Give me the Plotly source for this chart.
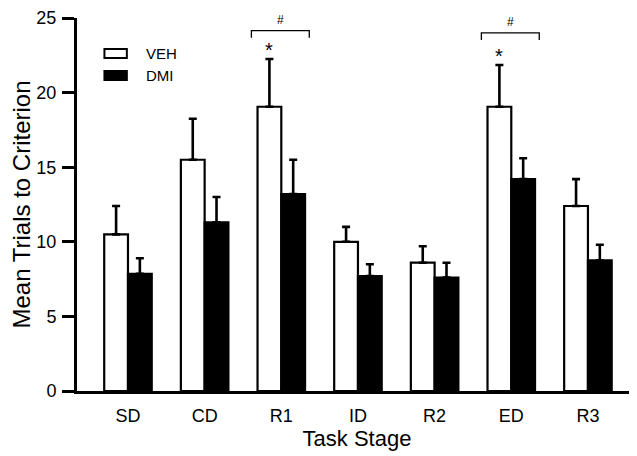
import plotly.graph_objects as go

stages = ["SD", "CD", "R1", "ID", "R2", "ED", "R3"]
veh_mean = [10.5, 15.5, 19.05, 10.0, 8.6, 19.05, 12.4]
veh_sem = [1.9, 2.75, 3.2, 1.0, 1.1, 2.8, 1.8]
dmi_mean = [7.85, 11.3, 13.2, 7.7, 7.6, 14.2, 8.75]
dmi_sem = [1.05, 1.7, 2.3, 0.8, 1.0, 1.4, 1.05]
zeros = [0] * len(stages)

star_stages = ["R1", "ED"]
bracket_gap = [1.9, 2.15]
FONT = "Liberation Sans, Arial, Helvetica, sans-serif"

fig = go.Figure()
fig.add_trace(go.Bar(
    x=stages, y=veh_mean, name="VEH",
    marker=dict(color="white", line=dict(color="black", width=2.2)),
    error_y=dict(type="data", array=veh_sem, arrayminus=zeros, symmetric=False,
                 color="black", thickness=2.6, width=4),
    showlegend=False,
))
fig.add_trace(go.Bar(
    x=stages, y=dmi_mean, name="DMI",
    marker=dict(color="black", line=dict(color="black", width=2.2)),
    error_y=dict(type="data", array=dmi_sem, arrayminus=zeros, symmetric=False,
                 color="black", thickness=2.6, width=4),
    showlegend=False,
))

shapes = []
annotations = []
for s, gap in zip(star_stages, bracket_gap):
    i = stages.index(s)
    top = veh_mean[i] + veh_sem[i]
    annotations.append(dict(x=i - 0.155, y=top - 0.25, xref="x", yref="y", text="*",
                            showarrow=False, font=dict(size=20, family=FONT, color="black"),
                            yanchor="bottom"))
    yb = top + gap
    shapes.append(dict(type="path", xref="x", yref="y",
                       path=f"M {i-0.39},{yb-0.47} L {i-0.39},{yb} L {i+0.365},{yb} L {i+0.365},{yb-0.47}",
                       line=dict(color="black", width=1.3)))
    annotations.append(dict(x=i - 0.01, y=yb + 0.1, xref="x", yref="y", text="#",
                            showarrow=False, font=dict(size=12, family=FONT, color="black"),
                            yanchor="bottom"))

# custom legend (rectangles + labels)
leg = [("VEH", "white", 0.917, 0.893), ("DMI", "black", 0.858, 0.834)]
for name, col, y1, y0 in leg:
    shapes.append(dict(type="rect", xref="paper", yref="paper", x0=0.049, x1=0.089, y0=y0, y1=y1,
                       fillcolor=col, line=dict(color="black", width=2)))
    annotations.append(dict(x=0.12, y=(y0 + y1) / 2, xref="paper", yref="paper", text=name,
                            showarrow=False, xanchor="left", yanchor="middle",
                            font=dict(size=15, family=FONT, color="black")))

fig.update_layout(
    width=637, height=456,
    margin=dict(l=69, r=8, t=10, b=73, autoexpand=False),
    plot_bgcolor="white", paper_bgcolor="white",
    barmode="group", bargap=0.38, bargroupgap=0,
    font=dict(family=FONT, color="black"),
    shapes=shapes, annotations=annotations,
    xaxis=dict(range=[-0.665, 6.64], showline=True, linecolor="black", linewidth=3,
               ticks="", tickfont=dict(size=18), ticklabelstandoff=6, showgrid=False, zeroline=False,
               automargin=False,
               title=dict(text="Task Stage", font=dict(size=22), standoff=4)),
    yaxis=dict(range=[0, 25], tickvals=[0, 5, 10, 15, 20, 25], showline=True,
               linecolor="black", linewidth=3, ticks="outside", ticklen=12, tickwidth=2.5,
               tickcolor="black", tickfont=dict(size=18), ticklabelstandoff=2,
               showgrid=False, zeroline=False, automargin=False,
               title=dict(text="Mean Trials to Criterion", font=dict(size=24), standoff=13)),
)

fig.write_html("out.html")
